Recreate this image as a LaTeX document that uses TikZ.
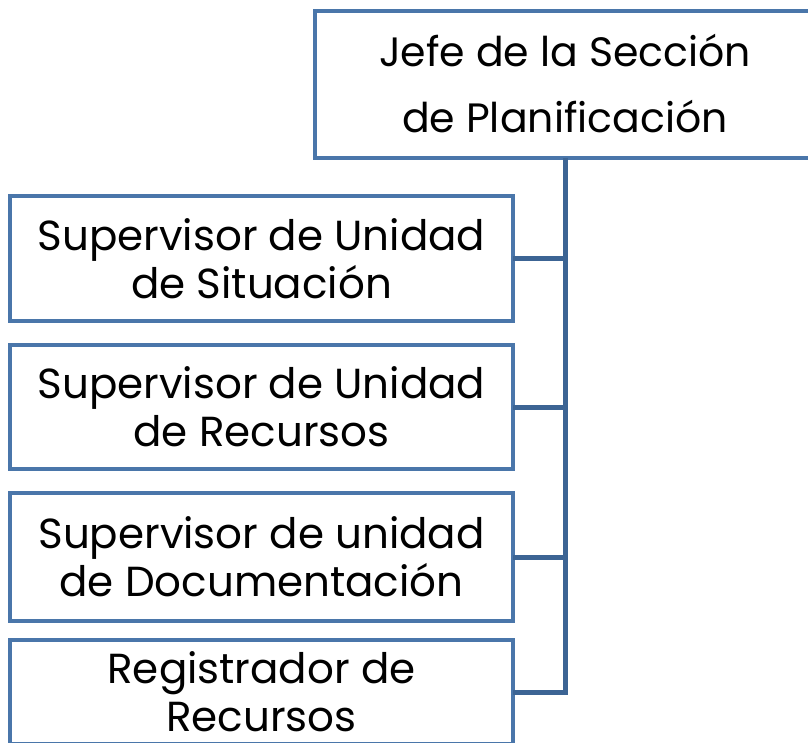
\documentclass[tikz,border=0pt]{standalone}
\usepackage{fontspec}
\setmainfont{Poppins}
\definecolor{boxblue}{RGB}{74,118,170}
\definecolor{lineblue}{RGB}{60,100,148}
\usetikzlibrary{positioning}
\begin{document}
\begin{tikzpicture}[x=1pt,y=-1pt,
    box/.style={draw=boxblue, line width=4pt, fill=white, align=center,
        inner sep=0pt, outer sep=0pt, font=\fontsize{42}{48}\selectfont},
    link/.style={lineblue, line width=5pt}]
            \useasboundingbox (0,0) rectangle (808,742);

            % Head of section
            \node[box, minimum width=500, minimum height=147,
                font=\fontsize{41}{66}\selectfont] (jefe) at (565,84)
                {Jefe de la Sección\\de Planificación};

            % Units
            \node[box, minimum width=503, minimum height=125] (sit) at (261.5,258.5)
                {Supervisor de Unidad\\de Situación};
            \node[box, minimum width=503, minimum height=124] (rec) at (261.5,407)
                {Supervisor de Unidad\\de Recursos};
            \node[box, minimum width=503, minimum height=128] (doc) at (261.5,557)
                {Supervisor de unidad\\de Documentación};
            \node[box, minimum width=503, minimum height=104] (reg) at (261.5,692)
                {Registrador de\\Recursos};

            % Connectors
            \draw[link] (jefe.south) |- (reg.east);
            \foreach \n in {sit,rec,doc} {
                \draw[link] (\n.east) -- (\n.east -| jefe.south);
            }
        \end{tikzpicture}
\end{document}
